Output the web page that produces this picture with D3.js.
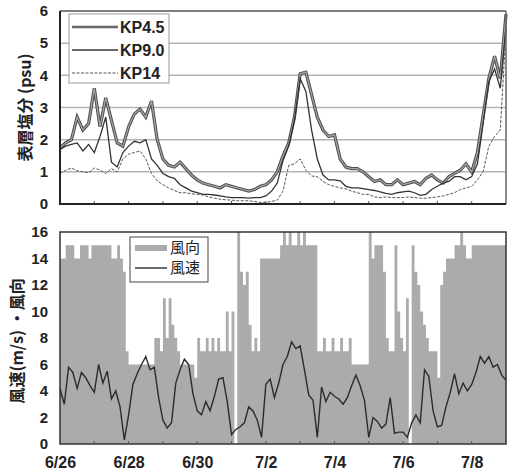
<!DOCTYPE html>
<html>
<head>
<meta charset="utf-8">
<script src="https://cdn.jsdelivr.net/npm/d3@7"></script>
<style>
  body { margin: 0; background: #fff; }
  text { font-family: "Liberation Sans", Arial, sans-serif; }
  .jp { font-family: "Noto Sans CJK JP", "Noto Sans CJK SC", sans-serif; }
</style>
</head>
<body>
<div id="chart"></div>
<script>
// x axis: days since 6/26 0:00
var dayTicks = [0, 2, 4, 6, 8, 10, 12];
var dayLabels = ["6/26", "6/28", "6/30", "7/2", "7/4", "7/6", "7/8"];

// surface salinity (psu), one value every 4 hours
var kp45 = [1.75,1.9,2.0,2.7,2.3,2.5,3.6,2.4,3.3,2.6,
  1.9,1.8,2.4,2.8,2.95,2.7,3.2,2.0,1.4,1.2,
  1.15,1.3,1.1,0.9,0.75,0.65,0.6,0.55,0.5,0.6,
  0.55,0.5,0.45,0.4,0.45,0.55,0.6,0.75,1.0,1.5,
  1.9,2.7,4.05,4.1,3.4,2.7,2.3,2.1,2.15,1.4,
  1.15,1.1,1.1,1.0,0.85,0.7,0.75,0.6,0.6,0.75,
  0.6,0.65,0.7,0.6,0.8,0.9,0.75,0.65,0.85,0.95,
  1.05,1.25,1.0,1.6,2.75,3.9,4.6,3.9,5.9];
var kp90 = [1.7,1.8,1.85,1.9,1.65,1.85,1.6,2.1,2.7,1.3,
  1.15,1.6,1.8,1.95,1.9,2.0,1.4,1.2,0.95,0.85,
  0.8,0.6,0.5,0.4,0.35,0.3,0.3,0.28,0.25,0.22,
  0.2,0.2,0.2,0.18,0.2,0.2,0.25,0.4,0.65,1.35,
  1.8,2.6,3.9,3.5,2.3,1.4,0.9,0.75,0.75,0.72,
  0.55,0.5,0.5,0.48,0.45,0.42,0.38,0.33,0.3,0.35,
  0.38,0.4,0.35,0.27,0.3,0.45,0.55,0.65,0.7,0.85,
  0.85,0.75,0.85,1.25,2.5,3.8,4.2,3.6,5.5];
var kp14 = [0.95,1.05,1.12,1.03,1.0,0.97,1.12,1.05,0.95,1.1,
  1.0,1.4,1.55,1.6,1.65,1.4,0.95,0.72,0.6,0.5,
  0.42,0.35,0.35,0.32,0.3,0.28,0.22,0.18,0.15,0.13,
  0.12,0.1,0.1,0.1,0.08,0.05,0.05,0.08,0.12,0.4,
  1.2,1.25,1.4,1.05,0.87,0.85,0.7,0.6,0.55,0.5,
  0.47,0.4,0.35,0.3,0.3,0.22,0.2,0.22,0.2,0.2,
  0.2,0.22,0.2,0.18,0.18,0.2,0.22,0.25,0.3,0.35,
  0.45,0.5,0.55,0.75,1.0,1.8,2.1,2.3,5.4];

// wind speed (m/s), one value every 3 hours
var windSpeed = [4.2,3.0,5.8,5.4,4.2,5.4,5.0,4.4,3.9,6.0,
  4.6,5.5,3.4,4.0,2.8,0.3,2.2,4.5,5.3,6.0,
  6.6,5.6,5.8,3.5,1.8,1.2,1.6,4.6,5.6,6.4,
  6.0,3.8,2.5,2.2,3.2,2.5,3.6,4.9,5.0,3.2,
  0.7,1.1,1.3,1.6,2.8,2.5,1.8,0.5,4.5,4.9,
  3.5,4.6,6.0,6.6,7.7,7.2,7.4,5.6,3.7,3.3,
  0.5,4.3,3.2,3.9,3.6,3.4,3.0,3.5,4.4,5.2,
  4.4,3.3,0.5,2.0,1.7,1.2,1.5,3.5,0.8,0.9,
  0.9,0.5,1.6,2.2,1.6,5.6,5.1,2.5,1.3,1.4,
  2.8,3.9,5.3,3.8,4.6,4.0,4.5,5.4,6.6,6.1,
  6.6,5.8,6.0,5.2,4.8];

// wind direction (16 points), one value every 2 hours
var windDir = [14,14,15,15,15,14,14,15,15,15,
  14,15,15,15,15,15,15,15,14,14,
  15,14,13,7,6,6,6,6,6,6,
  6,6,6,8,8,7,11,8,11,9,
  8,7,6,6,6,6,6,5,8,7,
  7,8,7,8,7,8,7,7,10,7,
  10,0,16,13,12,13,9,7,8,7,
  14,14,14,14,14,14,14,15,16,15,
  16,15,15,16,15,16,15,15,15,15,
  7,7,8,7,7,8,7,7,8,7,
  7,8,6,6,6,6,6,6,16,14,
  15,15,15,13,8,7,7,15,10,8,
  7,11,0,15,13,12,10,9,8,7,
  7,7,5,12,13,14,14,14,15,15,
  16,15,14,14,15,15,15,15,15,15,
  15,15,15,15,15,15];

var width = 516, height = 475;
var left = 60, right = 506;
var top1 = 11, bot1 = 204;   // salinity panel
var top2 = 232, bot2 = 444;  // wind panel

var svg = d3.select("#chart").append("svg")
    .attr("width", width)
    .attr("height", height);

var x = d3.scaleLinear().domain([0, 13]).range([left, right]);
var y1 = d3.scaleLinear().domain([0, 6]).range([bot1, top1]);
var y2 = d3.scaleLinear().domain([0, 16]).range([bot2, top2]);

// turn a series into points (t in days)
function pts(arr, perDay) {
    return arr.map(function(v, i) { return {t: i / perDay, v: v}; });
}

// ---------- top panel: salinity ----------
var g1 = svg.append("g");

// horizontal grid
g1.selectAll(".grid")
    .data(d3.range(1, 6))
    .enter().append("line")
    .attr("x1", left).attr("x2", right)
    .attr("y1", function(d) { return y1(d); })
    .attr("y2", function(d) { return y1(d); })
    .attr("stroke", "#b4b4b4")
    .attr("stroke-width", 1.5);

var line1 = d3.line()
    .x(function(d) { return x(d.t); })
    .y(function(d) { return y1(d.v); });

// KP4.5: thick gray line with dark edges
g1.append("path").datum(pts(kp45, 6))
    .attr("fill", "none").attr("stroke", "#4d4d4d").attr("stroke-width", 3.2)
    .attr("d", line1);
g1.append("path").datum(pts(kp45, 6))
    .attr("fill", "none").attr("stroke", "#a6a6a6").attr("stroke-width", 1.2)
    .attr("d", line1);
// KP9.0
g1.append("path").datum(pts(kp90, 6))
    .attr("fill", "none").attr("stroke", "#333").attr("stroke-width", 1.3)
    .attr("d", line1);
// KP14
g1.append("path").datum(pts(kp14, 6))
    .attr("fill", "none").attr("stroke", "#555").attr("stroke-width", 1)
    .attr("stroke-dasharray", "3,1.5")
    .attr("d", line1);

// frame
g1.append("line").attr("x1", left).attr("x2", right).attr("y1", top1).attr("y2", top1)
    .attr("stroke", "#555").attr("stroke-width", 1.5);
g1.append("line").attr("x1", right).attr("x2", right).attr("y1", top1).attr("y2", bot1)
    .attr("stroke", "#666").attr("stroke-width", 1.5);

// day ticks along the bottom
g1.selectAll(".dtick")
    .data(d3.range(1, 13))
    .enter().append("line")
    .attr("x1", function(d) { return x(d); })
    .attr("x2", function(d) { return x(d); })
    .attr("y1", bot1).attr("y2", bot1 - 3)
    .attr("stroke", "#555");

var yAxis1 = g1.append("g")
    .attr("transform", "translate(" + left + ",0)")
    .call(d3.axisLeft(y1).ticks(6).tickSize(0).tickPadding(12));
yAxis1.select(".domain").remove();
yAxis1.selectAll("text")
    .attr("font-family", "Liberation Sans, Arial, sans-serif")
    .attr("font-size", 15).attr("font-weight", "bold").attr("fill", "#222");

g1.append("line").attr("x1", left).attr("x2", left).attr("y1", top1).attr("y2", bot1 + 1)
    .attr("stroke", "#222").attr("stroke-width", 2);
g1.append("line").attr("x1", left).attr("x2", right).attr("y1", bot1).attr("y2", bot1)
    .attr("stroke", "#222").attr("stroke-width", 2);

// y title
g1.append("text")
    .attr("class", "jp")
    .attr("transform", "translate(25," + ((top1 + bot1) / 2) + ") rotate(-90)")
    .attr("text-anchor", "middle")
    .attr("dy", "0.36em")
    .attr("font-size", 16).attr("font-weight", "bold").attr("fill", "#222")
    .text("表層塩分 (psu)");

// legend
var leg1 = g1.append("g");
leg1.append("rect").attr("x", 69).attr("y", 14).attr("width", 100).attr("height", 69)
    .attr("fill", "#fff").attr("stroke", "#999").attr("stroke-width", 1);
var legItems = [
    {name: "KP4.5", y: 27},
    {name: "KP9.0", y: 50},
    {name: "KP14", y: 73}
];
legItems.forEach(function(d, i) {
    if (i === 0) {
        leg1.append("line").attr("x1", 72).attr("x2", 118).attr("y1", d.y).attr("y2", d.y)
            .attr("stroke", "#4d4d4d").attr("stroke-width", 2.4);
        leg1.append("line").attr("x1", 72).attr("x2", 118).attr("y1", d.y).attr("y2", d.y)
            .attr("stroke", "#999").attr("stroke-width", 0.8);
    } else if (i === 1) {
        leg1.append("line").attr("x1", 72).attr("x2", 118).attr("y1", d.y).attr("y2", d.y)
            .attr("stroke", "#333").attr("stroke-width", 1.3);
    } else {
        leg1.append("line").attr("x1", 72).attr("x2", 118).attr("y1", d.y).attr("y2", d.y)
            .attr("stroke", "#555").attr("stroke-width", 1).attr("stroke-dasharray", "3,1.5");
    }
    leg1.append("text").attr("x", 120).attr("y", d.y).attr("dy", "0.36em")
        .attr("font-size", 16).attr("font-weight", "bold").attr("fill", "#222")
        .text(d.name);
});

// ---------- bottom panel: wind ----------
var g2 = svg.append("g");

var dirPts = pts(windDir, 12);
dirPts.push({t: 13, v: windDir[windDir.length - 1]});
g2.append("path").datum(dirPts)
    .attr("fill", "#ababab")
    .attr("d", d3.area()
        .curve(d3.curveStepAfter)
        .x(function(d) { return x(d.t); })
        .y0(bot2)
        .y1(function(d) { return y2(d.v); }));

g2.append("path").datum(pts(windSpeed, 8))
    .attr("fill", "none").attr("stroke", "#2b2b2b").attr("stroke-width", 1.4)
    .attr("d", d3.line()
        .x(function(d) { return x(d.t); })
        .y(function(d) { return y2(d.v); }));

g2.append("rect").attr("x", left).attr("y", top2)
    .attr("width", right - left).attr("height", bot2 - top2)
    .attr("fill", "none").attr("stroke", "#333").attr("stroke-width", 1.5);

g2.selectAll(".dtick")
    .data(d3.range(1, 13))
    .enter().append("line")
    .attr("x1", function(d) { return x(d); })
    .attr("x2", function(d) { return x(d); })
    .attr("y1", bot2).attr("y2", bot2 - 3)
    .attr("stroke", "#555");

var yAxis2 = g2.append("g")
    .attr("transform", "translate(" + left + ",0)")
    .call(d3.axisLeft(y2).tickValues(d3.range(0, 17, 2)).tickSize(0).tickPadding(12));
yAxis2.select(".domain").remove();
yAxis2.selectAll("text")
    .attr("font-family", "Liberation Sans, Arial, sans-serif")
    .attr("font-size", 15).attr("font-weight", "bold").attr("fill", "#222");

var xAxis = g2.append("g")
    .attr("transform", "translate(0," + bot2 + ")")
    .call(d3.axisBottom(x).tickValues(dayTicks)
        .tickFormat(function(d, i) { return dayLabels[i]; })
        .tickSize(0).tickPadding(13));
xAxis.select(".domain").remove();
xAxis.selectAll("text")
    .attr("font-family", "Liberation Sans, Arial, sans-serif")
    .attr("font-size", 16).attr("font-weight", "bold").attr("fill", "#222");

g2.append("text")
    .attr("class", "jp")
    .attr("transform", "translate(17," + ((top2 + bot2) / 2 + 3) + ") rotate(-90)")
    .attr("text-anchor", "middle")
    .attr("dy", "0.36em")
    .attr("font-size", 16).attr("font-weight", "bold").attr("fill", "#222")
    .text("風速(m/s) ・風向");

// legend
var leg2 = g2.append("g");
leg2.append("rect").attr("x", 130).attr("y", 237).attr("width", 78).attr("height", 45)
    .attr("fill", "#fff").attr("stroke", "#444").attr("stroke-width", 1);
leg2.append("rect").attr("x", 135).attr("y", 245).attr("width", 32).attr("height", 6)
    .attr("fill", "#ababab");
leg2.append("line").attr("x1", 135).attr("x2", 167).attr("y1", 268).attr("y2", 268)
    .attr("stroke", "#2b2b2b").attr("stroke-width", 1.4);
leg2.append("text").attr("class", "jp").attr("x", 170).attr("y", 248).attr("dy", "0.36em")
    .attr("font-size", 15).attr("fill", "#222").text("風向");
leg2.append("text").attr("class", "jp").attr("x", 170).attr("y", 268).attr("dy", "0.36em")
    .attr("font-size", 15).attr("fill", "#222").text("風速");
</script>
</body>
</html>
